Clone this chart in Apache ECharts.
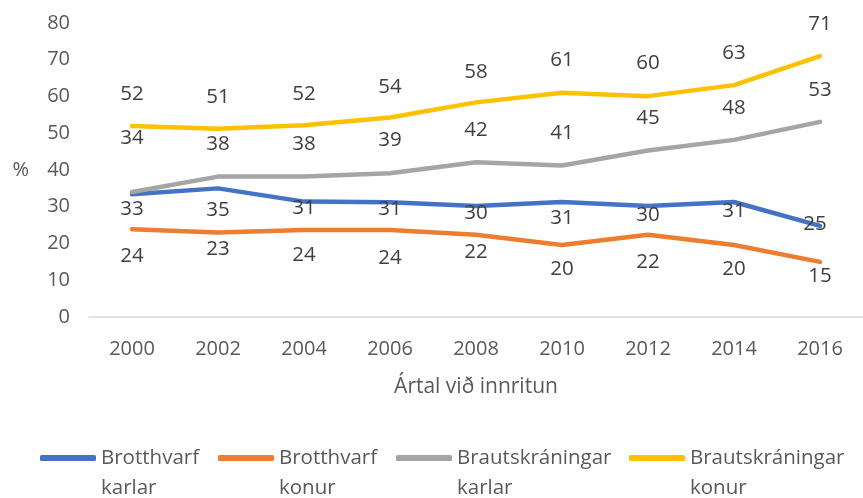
<!DOCTYPE html>
<html>
<head>
<meta charset="utf-8">
<script src="https://cdn.jsdelivr.net/npm/echarts@6/dist/echarts.min.js"></script>
<style>html,body{margin:0;padding:0;background:#fff}#c{width:863px;height:498px}</style>
</head>
<body>
<div id="c"></div>
<script>
var years = ['2000','2002','2004','2006','2008','2010','2012','2014','2016'];
var yTicks = [0,10,20,30,40,50,60,70,80];
var brotthvarfKarlar = [33.4, 35.0, 31.4, 31.2, 30.2, 31.3, 30.2, 31.3, 24.8];
var brotthvarfKonur = [23.9, 23.0, 23.7, 23.7, 22.4, 19.6, 22.4, 19.6, 15.0];
var brautKarlar = [34.0, 38.2, 38.2, 39.1, 42.1, 41.2, 45.3, 48.2, 53.1];
var brautKonur = [52.0, 51.2, 52.2, 54.3, 58.4, 61.0, 60.1, 63.1, 71.0];
var seriesNames = ['Brotthvarf\nkarlar', 'Brotthvarf\nkonur', 'Brautskráningar\nkarlar', 'Brautskráningar\nkonur'];

// label nudges (style only): [dx, dy] from the point to the label centre
var nudges = [
  [[0,15],[0,22],[0,7],[0,7],[0,7],[0,16],[0,9],[0,9],[-5,-2]],
  [[0,27],[0,17],[0,25],[0,28],[0,17],[0,24],[0,27],[0,24],[0,14]],
  [[0,-54],[0,-32],[0,-32],[0,-33],[0,-32],[0,-32],[0,-32],[0,-32],[0,-32]],
  [[0,-32],[0,-32],[0,-31],[0,-30],[0,-30],[0,-33],[0,-33],[0,-32],[0,-32]]
];
var colors = ['#4472C4', '#ED7D31', '#A5A5A5', '#FFC000'];
var values = [brotthvarfKarlar, brotthvarfKonur, brautKarlar, brautKonur];
var legendLefts = [40, 218, 396, 629];
var FONT = 'Open Sans';

var series = values.map(function (vals, s) {
  return {
    name: seriesNames[s],
    type: 'line',
    data: vals.map(function (v, i) {
      return { value: v, label: { offset: nudges[s][i] } };
    }),
    symbol: 'circle',
    symbolSize: 0,
    showSymbol: true,
    color: colors[s],
    lineStyle: { width: 4.5, color: colors[s], cap: 'round', join: 'round' },
    itemStyle: { color: colors[s] },
    label: {
      show: true,
      position: 'inside',
      align: 'center',
      verticalAlign: 'middle',
      color: '#404040',
      fontFamily: FONT,
      fontSize: 20.5,
      formatter: function (p) { return Math.round(p.value); }
    },
    emphasis: { disabled: true },
    animation: false
  };
});

var legends = seriesNames.map(function (n, s) {
  return {
    data: [n],
    left: legendLefts[s],
    top: 413,
    icon: 'roundRect',
    itemWidth: 56,
    itemHeight: 6,
    itemGap: 0,
    selectedMode: false,
    padding: 0,
    formatter: function (name) { return '\n' + name; },
    textStyle: {
      fontFamily: FONT,
      fontSize: 20.5,
      color: '#595959',
      lineHeight: 30
    }
  };
});

var chart = echarts.init(document.getElementById('c'), null, { renderer: 'canvas' });
chart.setOption({
  backgroundColor: '#ffffff',
  animation: false,
  grid: { left: 89, top: 23, width: 784, height: 294, containLabel: false },
  legend: legends,
  xAxis: {
    type: 'category',
    data: years,
    boundaryGap: true,
    axisLine: { show: true, lineStyle: { color: '#D9D9D9', width: 1.5 } },
    axisTick: { show: false },
    axisLabel: { color: '#595959', fontFamily: FONT, fontSize: 20, margin: 22 },
    name: 'Ártal við innritun',
    nameLocation: 'middle',
    nameGap: 60,
    nameTextStyle: { color: '#595959', fontFamily: FONT, fontSize: 21 }
  },
  yAxis: {
    type: 'value',
    min: yTicks[0],
    max: yTicks[yTicks.length - 1],
    interval: 10,
    axisLine: { show: false },
    axisTick: { show: false },
    splitLine: { show: false },
    axisLabel: { color: '#595959', fontFamily: FONT, fontSize: 20, margin: 19 },
    name: '%',
    nameLocation: 'middle',
    nameRotate: 0,
    nameGap: 60,
    nameTextStyle: { color: '#595959', fontFamily: FONT, fontSize: 20 }
  },
  series: series
});
</script>
</body>
</html>
